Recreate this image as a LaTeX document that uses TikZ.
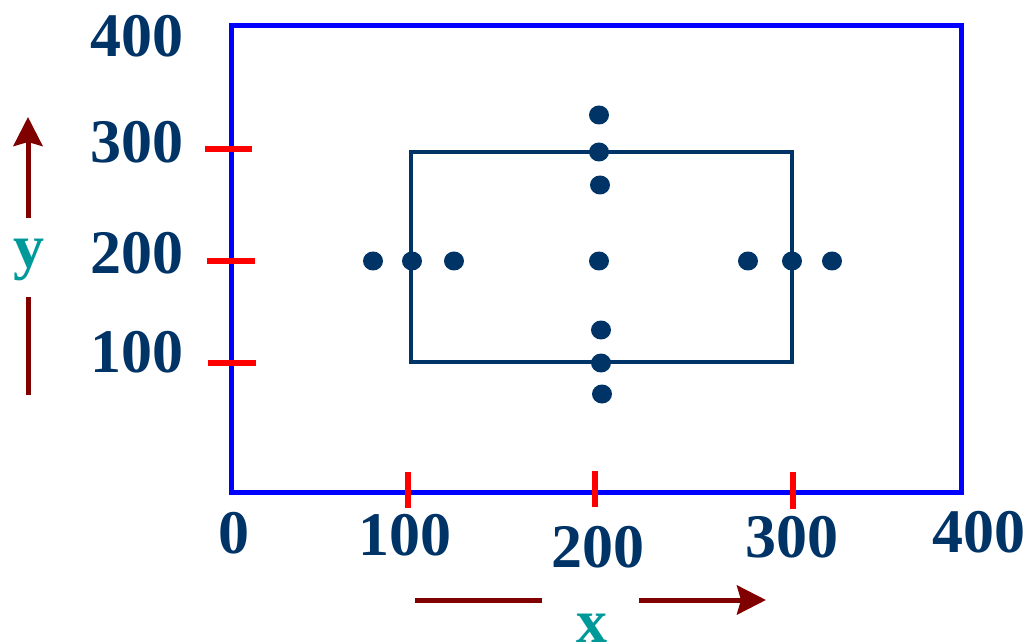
\documentclass[tikz,border=0pt]{standalone}
\usepackage{fontspec}
\setmainfont{Liberation Serif}
\usetikzlibrary{arrows.meta}
\definecolor{navy}{RGB}{0,51,102}
\definecolor{axisred}{RGB}{128,0,0}
\definecolor{tealc}{RGB}{0,153,153}
\begin{document}
\begin{tikzpicture}[x=1pt,y=-1pt,
  lab/.style={font=\fontsize{62}{62}\selectfont\bfseries, text=navy, anchor=base, inner sep=0pt},
  axlab/.style={font=\fontsize{62}{62}\selectfont\bfseries, text=tealc, anchor=base, inner sep=0pt},
  tick/.style={draw=red, line width=5.5pt},
  dot/.style={fill=navy},
  axarrow/.style={draw=axisred, line width=5pt},
  axhead/.style={axarrow, -{Stealth[length=29pt,width=29pt,inset=4pt]}}]
\useasboundingbox (0,0) rectangle (1030,644);
% outer frame
\draw[blue, line width=5pt, line join=miter] (231,26) rectangle (961,492);
% inner rectangle
\draw[navy, line width=4pt] (411,152) rectangle (792,362);
% ticks
\coordinate (ty3a) at (205,149); \coordinate (ty3b) at (252,149);
\coordinate (ty2a) at (207,261); \coordinate (ty2b) at (255,261);
\coordinate (ty1a) at (208,363); \coordinate (ty1b) at (256,363);
\coordinate (tx1a) at (408,472); \coordinate (tx1b) at (408,508);
\coordinate (tx2a) at (595,471); \coordinate (tx2b) at (595,507);
\coordinate (tx3a) at (793,472); \coordinate (tx3b) at (793,509);
\draw[tick] (ty3a) -- (ty3b);
\draw[tick] (ty2a) -- (ty2b);
\draw[tick] (ty1a) -- (ty1b);
\draw[tick] (tx1a) -- (tx1b);
\draw[tick] (tx2a) -- (tx2b);
\draw[tick] (tx3a) -- (tx3b);
% dots
\foreach \px/\py in {599/115, 599/152, 600/185, 599/261, 601/330, 601/363, 602/394,
                     373/261, 412/261, 454/261, 748/261, 792/261, 832/261}
  \fill[dot] (\px,\py) ellipse [x radius=10, y radius=9.5];
% y-axis labels
\node[lab] (y400) at (137,57) {400};
\node[lab] (y300) at (137,163) {300};
\node[lab] (y200) at (137,273) {200};
\node[lab] (y100) at (137,372) {100};
% x-axis labels
\node[lab] (x0) at (234,553) {0};
\node[lab] (x100) at (405,555) {100};
\node[lab] (x200) at (598,567) {200};
\node[lab] (x300) at (792,557) {300};
\node[lab] (x400) at (979,552) {400};
% axis names
\node[axlab] (ylab) at (29,268) {y};
\node[axlab] (xlab) at (592,642) {x};
% y arrow
\coordinate (ya1) at (28,395); \coordinate (ya2) at (28,297);
\coordinate (ya3) at (28,218); \coordinate (ya4) at (28,117);
\draw[axarrow] (ya1) -- (ya2);
\draw[axhead] (ya3) -- (ya4);
% x arrow
\coordinate (xa1) at (415,600); \coordinate (xa2) at (542,600);
\coordinate (xa3) at (639,600); \coordinate (xa4) at (766,600);
\draw[axarrow] (xa1) -- (xa2);
\draw[axhead] (xa3) -- (xa4);
\end{tikzpicture}
\end{document}
